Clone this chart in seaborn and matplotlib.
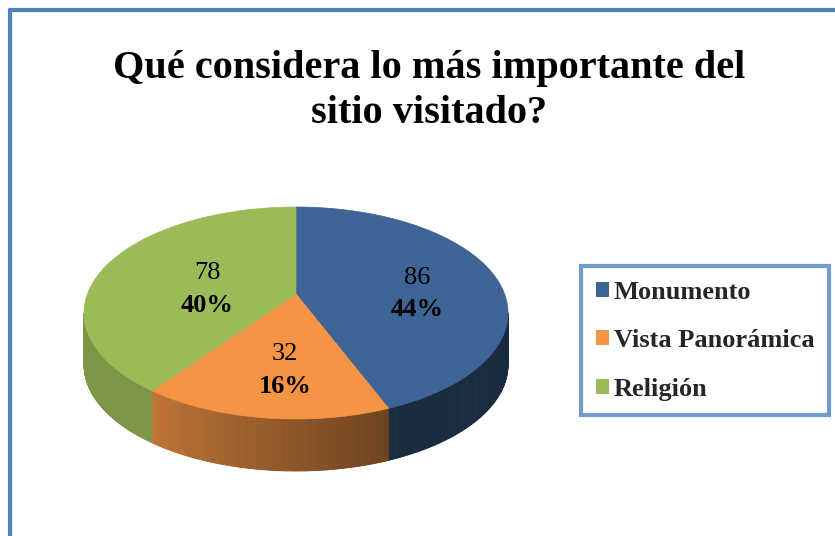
import numpy as np
import matplotlib
matplotlib.use("Agg")
import matplotlib.pyplot as plt
from matplotlib.patches import Polygon, Patch
from matplotlib.lines import Line2D
import seaborn as sns

# data
categories = ["Monumento", "Vista Panorámica", "Religión"]
counts = [86, 32, 78]
title = "Qué considera lo más importante del\nsitio visitado?"
top_colors = ["#3E6496", "#F49444", "#9BBB59"]
border_blue = "#4F81BD"

sns.set_theme(style="white")
plt.rcParams["font.family"] = ["Liberation Serif", "DejaVu Serif"]
palette = sns.color_palette(top_colors)

W, H = 835, 536
fig = plt.figure(figsize=(W / 100, H / 100), dpi=100)
ax = fig.add_axes([0, 0, 1, 1])
ax.set_xlim(0, W)
ax.set_ylim(H, 0)
ax.axis("off")

# pie geometry (pixel units, y downwards)
cx, cy = 296, 313          # ellipse centre
rx, ry = 212, 106          # ellipse radii
vx, vy = 296, 294          # slice vertex (perspective)
depth = 52
e = (vy - cy) / ry

total = sum(counts)
fracs = np.array(counts) / total
bounds = 90 - 360 * np.concatenate([[0], np.cumsum(fracs)])


def rim(alpha):
    a = np.radians(alpha)
    dx, dy = np.cos(a), -np.sin(a)
    t = -dy * e + np.sqrt((dy * e) ** 2 - (e ** 2 - 1))
    return np.column_stack([vx + t * dx * rx, vy + t * dy * ry])


def shade(pt):
    phi = np.degrees(np.arctan2((pt[1] - cy) / ry, (pt[0] - cx) / rx))
    return 0.42 + 0.38 * np.clip((phi - 60) / 75, 0, 1)


# side walls
for i in range(len(counts)):
    a = np.linspace(bounds[i], bounds[i + 1], 200)
    pts = rim(a)
    base = np.array(palette[i])
    for k in range(len(a) - 1):
        p1, p2 = pts[k], pts[k + 1]
        if p1[1] < cy and p2[1] < cy:
            continue
        c = base * shade((p1 + p2) / 2)
        quad = [p1, p2, p2 + [0, depth], p1 + [0, depth]]
        ax.add_patch(Polygon(quad, closed=True, facecolor=c, edgecolor=c,
                             lw=0.6, zorder=2))

# top faces
for i in range(len(counts)):
    a = np.linspace(bounds[i], bounds[i + 1], 200)
    pts = np.vstack([[vx, vy], rim(a)])
    ax.add_patch(Polygon(pts, closed=True, facecolor=palette[i],
                         edgecolor=palette[i], lw=0.5, zorder=3))

# labels
label_r = [0.555, 0.62, 0.47]
for i in range(len(counts)):
    mid = np.radians((bounds[i] + bounds[i + 1]) / 2)
    lx = cx + label_r[i] * np.cos(mid) * rx + 6
    ly = cy - label_r[i] * np.sin(mid) * ry - 8
    ax.text(lx, ly - 16, f"{counts[i]}", ha="center", va="center",
            fontsize=19, color="black", zorder=5)
    ax.text(lx, ly + 16, f"{fracs[i]:.0%}", ha="center", va="center",
            fontsize=19, fontweight="bold", color="black", zorder=5)

# title
ax.text(429, 91, title, ha="center", va="center", fontsize=29,
        fontweight="bold", color="black", linespacing=1.3)

# outer frame (left and top edges visible)
fig.add_artist(Line2D([10 / W, 10 / W], [0, 1 - 10 / H], color=border_blue,
                      lw=3, transform=fig.transFigure))
fig.add_artist(Line2D([10 / W, 1], [1 - 10 / H, 1 - 10 / H], color=border_blue,
                      lw=3, transform=fig.transFigure))

# legend
handles = [Patch(facecolor=palette[i], edgecolor="none") for i in range(len(counts))]
leg = ax.legend(handles, categories, loc="upper left",
                bbox_to_anchor=(581 / W, 1 - 266 / H), bbox_transform=fig.transFigure,
                borderaxespad=0, frameon=True, fancybox=False,
                handlelength=0.5, handleheight=0.5, handletextpad=0.2,
                labelspacing=0.97, borderpad=0.55,
                prop={"family": "Liberation Serif", "weight": "bold", "size": 19})
frame = leg.get_frame()
frame.set_edgecolor(border_blue)
frame.set_linewidth(3)
frame.set_facecolor("white")

fig.savefig("out.png", dpi=100)
